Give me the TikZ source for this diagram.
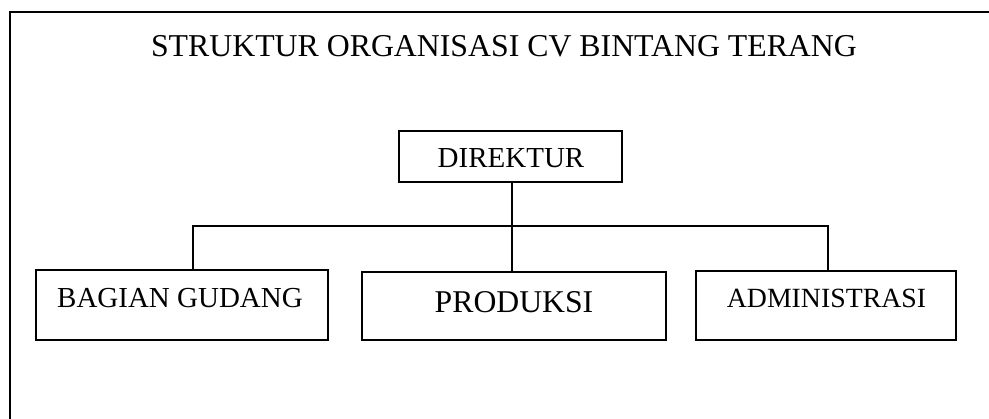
\documentclass[tikz,border=0pt]{standalone}
\usepackage{fontspec}
\setmainfont{Liberation Serif}
\begin{document}
\begin{tikzpicture}[x=1pt,y=-1pt,
  unit/.style={draw=black, line width=1.8pt, rectangle, inner sep=0pt},
  caption/.style={anchor=base, inner sep=0pt, text=black},
  link/.style={draw=black, line width=1.6pt},
  frameline/.style={draw=black, line width=2pt}]
  \useasboundingbox (0,0) rectangle (989,419);

  % outer frame (runs off the right and bottom edges)
  \draw[frameline] (989,12) -- (10,12) -- (10,419);

  % title
  \node[caption] (title) at (504,57) {\fontsize{31.8}{38}\selectfont STRUKTUR ORGANISASI CV BINTANG TERANG};

  % boxes
  \node[unit, minimum width=223pt, minimum height=51pt] (dir) at (510.5,156.5) {};
  \node[unit, minimum width=292pt, minimum height=70pt] (gud) at (182,305) {};
  \node[unit, minimum width=304pt, minimum height=68pt] (prod) at (514,306) {};
  \node[unit, minimum width=260pt, minimum height=69pt] (adm) at (826,305.5) {};

  % box texts
  \node[caption] (tdir) at (511,168) {\fontsize{29}{34}\selectfont DIREKTUR};
  \node[caption] (tgud) at (180,308) {\fontsize{29}{34}\selectfont BAGIAN GUDANG};
  \node[caption] (tprod) at (514,313) {\fontsize{31.7}{38}\selectfont PRODUKSI};
  \node[caption] (tadm) at (826.5,308) {\fontsize{27.8}{33}\selectfont ADMINISTRASI};

  % connectors
  \coordinate (busL) at (193,226);
  \coordinate (busR) at (828,226);
  \draw[link] (dir.south -| 512,0) -- (prod.north -| 512,0);
  \draw[link] (gud.north -| busL) -- (busL) -- (busR) -- (adm.north -| busR);
\end{tikzpicture}
\end{document}
